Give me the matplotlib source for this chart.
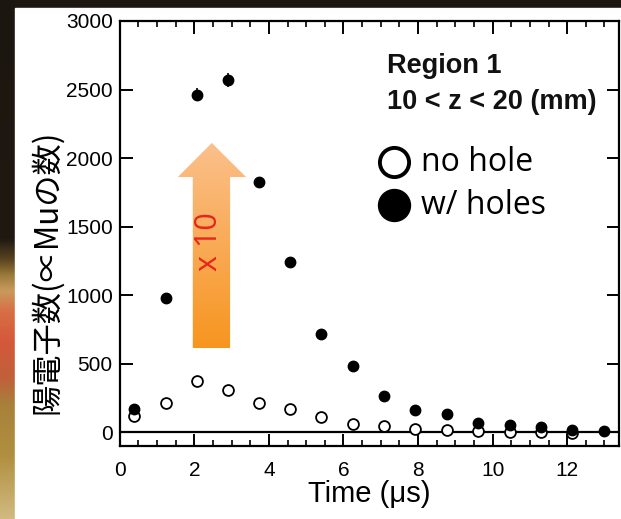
import numpy as np
import matplotlib
matplotlib.use("Agg")
import matplotlib.pyplot as plt
from matplotlib.colors import LinearSegmentedColormap
from matplotlib.patches import Polygon, Rectangle

# ---------------- data ----------------
time_us = [0.39, 1.23, 2.06, 2.90, 3.74, 4.58, 5.41, 6.26, 7.08, 7.93, 8.78, 9.61, 10.46, 11.29, 12.13, 12.99]
with_holes = [170, 980, 2463, 2571, 1822, 1244, 712, 483, 263, 163, 129, 66, 54, 36, 17, 5]
with_holes_err = [10, 25, 50, 50, 40, 30, 25, 20, 15, 12, 10, 8, 7, 5, 4, 3]
no_hole_time = [0.39, 1.23, 2.06, 2.90, 3.74, 4.58, 5.41, 6.26, 7.08, 7.93, 8.78, 9.61, 10.46, 11.29, 12.13]
no_hole = [120, 210, 375, 305, 212, 165, 107, 60, 47, 24, 16, 7, 1, 0, -4]
x_ticks = [0, 2, 4, 6, 8, 10, 12]
y_ticks = [0, 500, 1000, 1500, 2000, 2500, 3000]

W, H = 621, 519
fig = plt.figure(figsize=(W / 100, H / 100), dpi=100)

# ---------------- slide background ----------------
bg = fig.add_axes([0, 0, 1, 1], zorder=-10)
bg.set_xlim(0, W)
bg.set_ylim(H, 0)
bg.axis("off")
bg.add_patch(Rectangle((0, 0), W, H, color="#1d1710"))
strip_cmap = LinearSegmentedColormap.from_list(
    "strip",
    [(0.0, "#1c1610"), (0.46, "#201912"), (0.50, "#5a4420"), (0.53, "#9a7a3a"),
     (0.56, "#c99a5c"), (0.60, "#d86f45"), (0.66, "#d4583a"), (0.73, "#c0603a"),
     (0.78, "#a8803a"), (0.88, "#b09040"), (1.0, "#d2ba80")])
grad = np.linspace(0, 1, 256).reshape(-1, 1)
bg.imshow(grad, cmap=strip_cmap, extent=[0, 15, H, 0], aspect="auto", zorder=1)
bg.add_patch(Rectangle((15, 8), W - 15, H - 8, color="white", zorder=2))

# ---------------- main axes ----------------
ax = fig.add_axes([119.7 / W, 1 - 446 / H, (619 - 119.7) / W, (446 - 21) / H])
ax.set_facecolor("none")
ax.set_xlim(0, 13.39)
ax.set_ylim(-102, 3000)

ax.axhline(0, color="black", lw=1.6, zorder=2)

ax.plot(no_hole_time, no_hole, "o", ms=7.8, mfc="white", mec="black", mew=1.3, zorder=3)
ax.errorbar(time_us, with_holes, yerr=with_holes_err, fmt="o", ms=7.5, color="black",
            ecolor="black", elinewidth=1.2, capsize=0, zorder=4)

tick_font = dict(family="Liberation Sans", size=15)
ax.set_xticks(x_ticks)
ax.set_xticklabels([str(t) for t in x_ticks], fontdict=tick_font)
ax.set_xticks(np.arange(0, 13.4, 0.5), minor=True)
ax.set_yticks(y_ticks)
ax.set_yticklabels([str(t) for t in y_ticks], fontdict=tick_font)
ax.tick_params(axis="both", which="major", direction="in", length=9, width=1.4,
               top=True, right=True, colors="black")
ax.tick_params(axis="x", which="major", pad=11)
ax.tick_params(axis="y", which="major", pad=5)
ax.tick_params(axis="x", which="minor", direction="in", length=4.5, width=1.2, top=True)
for s in ax.spines.values():
    s.set_linewidth(1.6)

ax.set_xlabel("Time (μs)", family="Liberation Sans", fontsize=21, labelpad=0)
fig.text(47 / W, 1 - 272 / H, "陽電子数(∝Muの数)", rotation=90, ha="center", va="center",
         fontsize=22.5, family=["Noto Sans CJK JP", "DejaVu Sans"])

# ---------------- annotations ----------------
ax.text(0.535, 0.895, "Region 1", transform=ax.transAxes, family="Liberation Sans",
        fontweight="bold", fontsize=19.5, ha="left", va="center", color="#111111")
ax.text(0.535, 0.81, "10 < z < 20 (mm)", transform=ax.transAxes, family="Liberation Sans",
        fontweight="bold", fontsize=19.5, ha="left", va="center", color="#111111")

ax.plot([0.55], [0.668], "o", transform=ax.transAxes, ms=21, mfc="white", mec="black",
        mew=2.8, clip_on=False, zorder=5)
ax.plot([0.55], [0.567], "o", transform=ax.transAxes, ms=23, color="black",
        clip_on=False, zorder=5)
ax.text(0.604, 0.668, "no hole", transform=ax.transAxes, family="Open Sans",
        fontsize=23, ha="left", va="center")
ax.text(0.604, 0.567, "w/ holes", transform=ax.transAxes, family="Open Sans",
        fontsize=23, ha="left", va="center")

# gradient arrow (x 10)
arrow_pts = [(1.96, 613), (2.96, 613), (2.96, 1861), (3.39, 1861), (2.47, 2110),
             (1.56, 1861), (1.96, 1861)]
arrow = Polygon(arrow_pts, closed=True, facecolor="none", edgecolor="none", zorder=1)
ax.add_patch(arrow)
arrow_cmap = LinearSegmentedColormap.from_list("arr", ["#f7951f", "#fbc08c"])
img = ax.imshow(np.linspace(0, 1, 256).reshape(-1, 1), cmap=arrow_cmap, origin="lower",
                extent=[1.56, 3.39, 613, 2110], aspect="auto", zorder=1)
img.set_clip_path(arrow)
ax.set_xlim(0, 13.39)
ax.set_ylim(-102, 3000)
ax.text(2.4, 1387, "x 10", rotation=90, ha="center", va="center", color="#e8241c",
        family="Open Sans", fontsize=22, zorder=2)

fig.savefig("out.png", dpi=100)
